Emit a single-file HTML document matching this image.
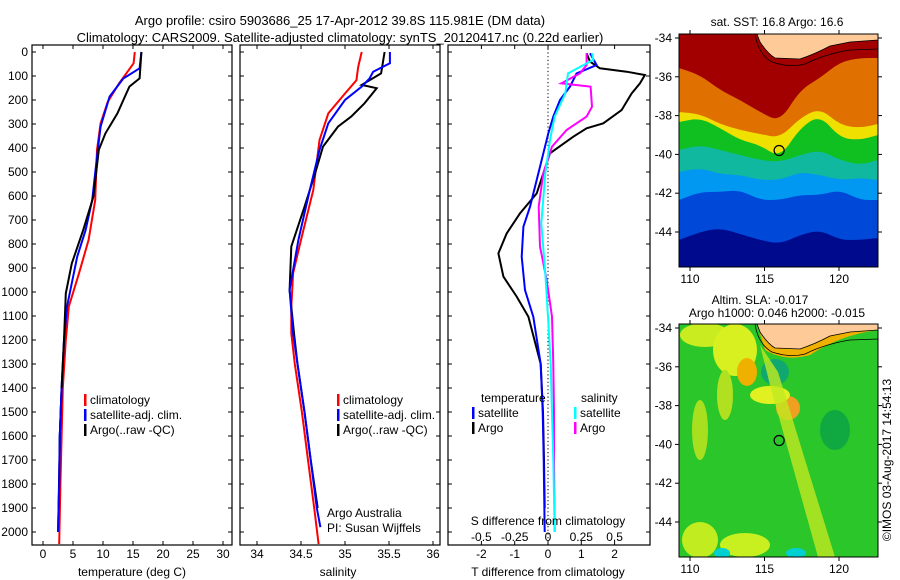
<!DOCTYPE html>
<html><head><meta charset="utf-8">
<style>
html,body{margin:0;padding:0;background:#fff;}
svg{display:block;font-family:"Liberation Sans",sans-serif;}
text{fill:#000;font-size:12px;}
</style></head>
<body>
<svg id="fig" width="900" height="580" viewBox="0 0 900 580" xmlns="http://www.w3.org/2000/svg">
<defs>
<clipPath id="c1"><rect x="32" y="45" width="200" height="500"/></clipPath>
<clipPath id="c2"><rect x="240" y="45" width="200" height="500"/></clipPath>
<clipPath id="c3"><rect x="448" y="45" width="202" height="500"/></clipPath>
<clipPath id="cm1"><rect x="679" y="34" width="199" height="233"/></clipPath>
<clipPath id="cm2"><rect x="679" y="324" width="199" height="233"/></clipPath>
</defs>
<text x="340" y="25" text-anchor="middle" style="font-size:13px">Argo profile: csiro 5903686_25 17-Apr-2012 39.8S 115.981E (DM data)</text>
<text x="340" y="42" text-anchor="middle" style="font-size:13px">Climatology: CARS2009. Satellite-adjusted climatology: synTS_20120417.nc (0.22d earlier)</text>
<g id="g1"></g>
<g id="g2"></g>
<g id="g3"></g>
<g id="m1"></g>
<g id="m2"></g>
<text transform="translate(891,460) rotate(-90)" text-anchor="middle">©IMOS 03-Aug-2017 14:54:13</text>
</svg>
<script>
// ---- data ----
const tDepClim = [0,47,130,207,297,408,617,783,922,1061,1200,1400,1600,1800,2050];
const tClim    = [15.3,15.1,12.7,10.8,9.6,9.0,8.7,7.6,6.0,4.3,3.8,3.3,3.1,2.9,2.7];
const tDepSat  = [0,68,110,186,311,436,617,742,853,1061,1200,1400,1600,1800,2000];
const tSat     = [16.4,16.1,13.4,11.1,9.6,9.0,8.2,7.1,5.7,4.0,3.5,3.1,2.8,2.7,2.5];
const tDepArgo = [0,110,144,256,339,408,603,742,881,1006,1200,1400,1600,1900];
const tArgo    = [16.4,16.1,14.4,12.4,10.4,9.3,8.4,6.7,4.8,3.8,3.5,3.1,2.8,2.6];

const sDepClim = [0,62,118,173,256,367,575,783,922,1061,1172,1300,1500,1700,1900,2050];
const sClim    = [35.19,35.15,35.13,35.0,34.81,34.71,34.64,34.5,34.41,34.39,34.39,34.43,34.51,34.58,34.65,34.70];
const sDepSat  = [0,47,82,110,144,200,297,408,575,783,992,1172,1300,1500,1700,1900,1980];
const sSat     = [35.51,35.51,35.32,35.28,35.19,35.0,34.81,34.71,34.6,34.47,34.37,34.41,34.46,34.54,34.61,34.68,34.72];
const sDepArgo = [0,89,137,151,214,269,311,394,506,645,811,992,1172,1300,1500,1700,1900];
const sArgo    = [35.45,35.41,35.19,35.36,35.22,35.07,34.92,34.75,34.66,34.54,34.39,34.37,34.42,34.46,34.54,34.61,34.69];

const dDepTArgo = [5,40,68,82,96,131,173,242,297,318,353,422,506,589,672,756,839,936,1019,1103,1300,1500,1700,1900];
const dTArgo    = [1.16,1.26,1.56,2.36,2.91,2.76,2.51,2.21,1.66,1.16,0.76,0.06,-0.14,-0.34,-0.84,-1.24,-1.49,-1.34,-0.94,-0.59,-0.22,-0.15,-0.12,-0.1];
const dDepTSat  = [5,54,89,144,200,269,339,478,645,728,853,992,1103,1300,1500,1700,2000];
const dTSat     = [1.26,1.46,0.86,0.66,0.36,0.16,0.01,-0.24,-0.54,-0.74,-0.79,-0.69,-0.44,-0.22,-0.16,-0.13,-0.1];
const dDepSSat  = [5,33,89,173,269,367,506,714,922,1103,1300,1500,1700,2000];
const dSSat     = [0.33,0.34,0.15,0.13,0.05,0.015,-0.02,-0.05,-0.02,0.0,0.02,0.03,0.04,0.05];
const dDepSArgo = [5,54,89,131,144,228,269,325,394,506,645,811,950,1103,1300,1500,1700,2000];
const dSArgo    = [0.29,0.29,0.24,0.10,0.32,0.33,0.29,0.14,0.03,-0.035,-0.07,-0.06,-0.01,0.03,0.04,0.045,0.045,0.05];

const depthTicks = [0,100,200,300,400,500,600,700,800,900,1000,1100,1200,1300,1400,1500,1600,1700,1800,1900,2000];
const tTicks = [0,5,10,15,20,25,30];
const sTicks = [34,34.5,35,35.5,36];
const sTickLabels = ['34','34.5','35','35.5','36'];
const dTTicks = [-2,-1,0,1,2];
const dSTicks = [-0.5,-0.25,0,0.25,0.5];
const dSTickLabels = ['-0.5','-0.25','0','0.25','0.5'];
const lonTicks = [110,115,120];
const latTicks = [-34,-36,-38,-40,-42,-44];
const floatLon = 115.981, floatLat = -39.8;

// ---- scales ----
const NS='http://www.w3.org/2000/svg';
const yD = d => 52 + d*0.24;
const xT = t => 43 + t*6;
const xS = s => 257 + (s-34)*88;
const xDT = t => 548 + t*33.3;
const xDS = s => 548 + s*133.2;
const mx = lon => 690 + (lon-110)*14.9;
const my1 = lat => 38 + (-34-lat)*19.4;
const my2 = lat => 328 + (-34-lat)*19.4;

function el(tag, attrs, parent){const e=document.createElementNS(NS,tag);for(const k in attrs)e.setAttribute(k,attrs[k]);parent.appendChild(e);return e;}
function txt(parent,x,y,s,anchor){const t=el('text',{x:x,y:y,'text-anchor':anchor||'start'},parent);t.textContent=s;return t;}

function frame(g,x0,x1,yt,yb){
  const r=el('rect',{x:x0,y:yt,width:x1-x0,height:yb-yt,fill:'none',stroke:'#000','stroke-width':1.2},g);
  
  
}
function line(g,xs,ds,sx,color,clip,name){
  let d='';
  for(let i=0;i<xs.length;i++){d+=(i?'L':'M')+sx(xs[i]).toFixed(1)+' '+yD(ds[i]).toFixed(1);}
  const p=el('path',{d:d,fill:'none',stroke:color,'stroke-width':2,'clip-path':'url(#'+clip+')'},g);
  
  
}
function depthAxis(g,x0,x1,labels){
  depthTicks.forEach(d=>{
    const y=yD(d);
    el('line',{x1:x0,x2:x0+4,y1:y,y2:y,stroke:'#000'},g);
    el('line',{x1:x1,x2:x1-4,y1:y,y2:y,stroke:'#000'},g);
    if(labels){const t=txt(g,28,y+4,String(d),'end');
      
      }
  });
}
function xAxis(g,ticks,labels,sx,yt,yb,ly){
  ticks.forEach((v,i)=>{
    const x=sx(v);
    el('line',{x1:x,x2:x,y1:yt,y2:yt+4,stroke:'#000'},g);
    el('line',{x1:x,x2:x,y1:yb,y2:yb-4,stroke:'#000'},g);
    if(labels){const t=txt(g,x,ly,labels[i],'middle');
      
      }
  });
}
function legendRow(g,x,y,color,label){
  el('rect',{x:x,y:y-9,width:2.5,height:12,fill:color},g);
  const t=txt(g,x+6,y+1,label);
  
  
}

// ---- panel 1 ----
const g1=document.getElementById('g1');
frame(g1,32,232,45,545);
depthAxis(g1,32,232,true);
xAxis(g1,tTicks,tTicks.map(String),xT,45,545,558);
line(g1,tClim,tDepClim,xT,'#f00','c1','line-climatology');
line(g1,tSat,tDepSat,xT,'#00f','c1','line-satellite-adj');
line(g1,tArgo,tDepArgo,xT,'#000','c1','line-argo');
line(g1,tSat.slice(-4),tDepSat.slice(-4),xT,'#00f','c1','line-satellite-adj-deep');
legendRow(g1,84,403,'#f00','climatology');
legendRow(g1,84,418,'#00f','satellite-adj. clim.');
legendRow(g1,84,433,'#000','Argo(..raw -QC)');
let t=txt(g1,132,576,'temperature (deg C)','middle');



// ---- panel 2 ----
const g2=document.getElementById('g2');
frame(g2,240,440,45,545);
depthAxis(g2,240,440,false);
xAxis(g2,sTicks,sTickLabels,xS,45,545,558);
line(g2,sClim,sDepClim,xS,'#f00','c2','line-climatology');
line(g2,sArgo,sDepArgo,xS,'#000','c2','line-argo');
line(g2,sSat,sDepSat,xS,'#00f','c2','line-satellite-adj');
legendRow(g2,337,403,'#f00','climatology');
legendRow(g2,337,418,'#00f','satellite-adj. clim.');
legendRow(g2,337,433,'#000','Argo(..raw -QC)');
t=txt(g2,327,517,'Argo Australia');


t=txt(g2,327,532,'PI: Susan Wijffels');


t=txt(g2,338,576,'salinity','middle');



// ---- panel 3 ----
const g3=document.getElementById('g3');
frame(g3,448,650,45,545);
depthAxis(g3,448,650,false);
xAxis(g3,dTTicks,dTTicks.map(String),xDT,45,545,558);
dSTicks.forEach((v,i)=>{const tt=txt(g3,xDS(v),541,dSTickLabels[i],'middle');
  
  });
const zl=el('line',{x1:xDT(0),x2:xDT(0),y1:45,y2:545,stroke:'#000','stroke-dasharray':'1.2,2.5'},g3);


line(g3,dTArgo,dDepTArgo,xDT,'#000','c3','line-t-diff-argo');
line(g3,dTSat,dDepTSat,xDT,'#00f','c3','line-t-diff-satellite');
line(g3,dSArgo,dDepSArgo,xDS,'#f0f','c3','line-s-diff-argo');
line(g3,dSSat,dDepSSat,xDS,'#0ff','c3','line-s-diff-satellite');
t=txt(g3,481,402,'temperature');


t=txt(g3,581,402,'salinity');


legendRow(g3,472,416,'#00f','satellite');
legendRow(g3,472,431,'#000','Argo');
legendRow(g3,574,416,'#0ff','satellite');
legendRow(g3,574,431,'#f0f','Argo');
t=txt(g3,548,525,'S difference from climatology','middle');


t=txt(g3,548,576,'T difference from climatology','middle');



// ---- maps ----
const bx=[679,700,720,740,760,780,800,820,840,860,878];
function band(g,top,color,off,clip){
  let d='M'+bx[0]+' '+(top[0]+off);
  for(let i=1;i<bx.length;i++){const xm=(bx[i-1]+bx[i])/2;d+=' Q'+bx[i-1]+' '+(top[i-1]+off)+' '+xm+' '+((top[i-1]+top[i])/2+off);}
  d+=' L878 '+(top[10]+off)+' L878 600 L679 600 Z';
  const p=el('path',{d:d,fill:color,'clip-path':'url(#'+clip+')'},g);
  
  
}
function land(g,off,clip){
  const p=el('path',{d:`M757 ${off} L760 ${off+8} Q768 ${off+20} 775 ${off+24} L800 ${off+25} Q815 ${off+20} 830 ${off+12} L850 ${off+8} L878 ${off+6} L878 ${off} Z`,fill:'#fdca98',stroke:'#000','stroke-width':0.8,'clip-path':'url(#'+clip+')'},g);
  
  
  el('path',{d:`M755 ${off} Q758 ${off+20} 772 ${off+28} Q790 ${off+34} 805 ${off+30} Q825 ${off+20} 850 ${off+16} L878 ${off+15}`,fill:'none',stroke:'#000','stroke-width':0.8,'clip-path':'url(#'+clip+')'},g);
}
function mapAxes(g,yt,yb,myf,lonLabelY){
  const r=el('rect',{x:679,y:yt,width:199,height:yb-yt,fill:'none',stroke:'#000'},g);
  
  
  lonTicks.forEach(v=>{const x=mx(v);
    el('line',{x1:x,x2:x,y1:yt,y2:yt-4,stroke:'#000'},g);
    el('line',{x1:x,x2:x,y1:yb,y2:yb+4,stroke:'#000'},g);
    const tt=txt(g,x,lonLabelY,String(v),'middle');
    
    });
  latTicks.forEach(v=>{const y=myf(v);
    el('line',{x1:679,x2:675,y1:y,y2:y,stroke:'#000'},g);
    el('line',{x1:878,x2:882,y1:y,y2:y,stroke:'#000'},g);
    const tt=txt(g,672,y+4,String(v),'end');
    
    });
  const c=el('circle',{cx:mx(floatLon),cy:myf(floatLat),r:5,fill:'none',stroke:'#000','stroke-width':1.2},g);
  
  
}
const m1=document.getElementById('m1');
el('rect',{x:679,y:34,width:199,height:233,fill:'#a20000'},m1);
band(m1,[68,75,90,100,112,122,90,78,62,58,58],'#e07000',0,'cm1');
band(m1,[112,114,124,130,134,138,118,108,125,128,124],'#f0e000',0,'cm1');
band(m1,[122,118,128,140,145,158,128,115,138,140,135],'#10c020',0,'cm1');
band(m1,[150,145,150,155,160,162,155,150,160,165,160],'#10b8a0',0,'cm1');
band(m1,[172,168,174,175,180,180,172,175,180,178,180],'#0098f0',0,'cm1');
band(m1,[200,192,192,190,200,200,195,195,190,200,200],'#0048d8',0,'cm1');
band(m1,[240,232,228,234,240,244,235,230,240,240,238],'#000a8c',0,'cm1');
land(m1,34,'cm1');
mapAxes(m1,34,267,my1,283);
t=txt(m1,777,26,'sat. SST: 16.8 Argo: 16.6','middle');



const m2=document.getElementById('m2');
el('rect',{x:679,y:324,width:199,height:233,fill:'#2ac62a'},m2);
const blobs=[[705,335,25,12,'#c8ec20'],[735,350,22,26,'#d8f020'],[747,372,10,14,'#f0b000'],[788,408,12,12,'#f0a020'],[770,395,20,9,'#e0f020'],[700,430,8,30,'#a8e020'],[725,395,8,25,'#b0e020'],[700,540,18,18,'#c0ec20'],[745,545,25,12,'#c8f020'],[775,372,14,13,'#10a870'],[722,553,8,5,'#00d0d0'],[796,553,10,5,'#00d0d0'],[835,430,15,20,'#10a840'],[800,335,8,8,'#10a840']];
blobs.forEach(b=>{const e=el('ellipse',{cx:b[0],cy:b[1],rx:b[2],ry:b[3],fill:b[4],'clip-path':'url(#cm2)'},m2);
  
  });
el('path',{d:'M760 345 Q770 360 778 372 L835 557 L818 557 L770 385 Z',fill:'#c0e820',opacity:0.8,'clip-path':'url(#cm2)'},m2);
el('path',{d:'M757 324 L765 350 Q785 362 810 355 Q840 335 878 330 L878 324 Z',fill:'#f0b000','clip-path':'url(#cm2)'},m2);
land(m2,324,'cm2');
mapAxes(m2,324,557,my2,573);
t=txt(m2,760,304,'Altim. SLA: -0.017','middle');


t=txt(m2,777,317,'Argo h1000: 0.046 h2000: -0.015','middle');


</script>
</body></html>
